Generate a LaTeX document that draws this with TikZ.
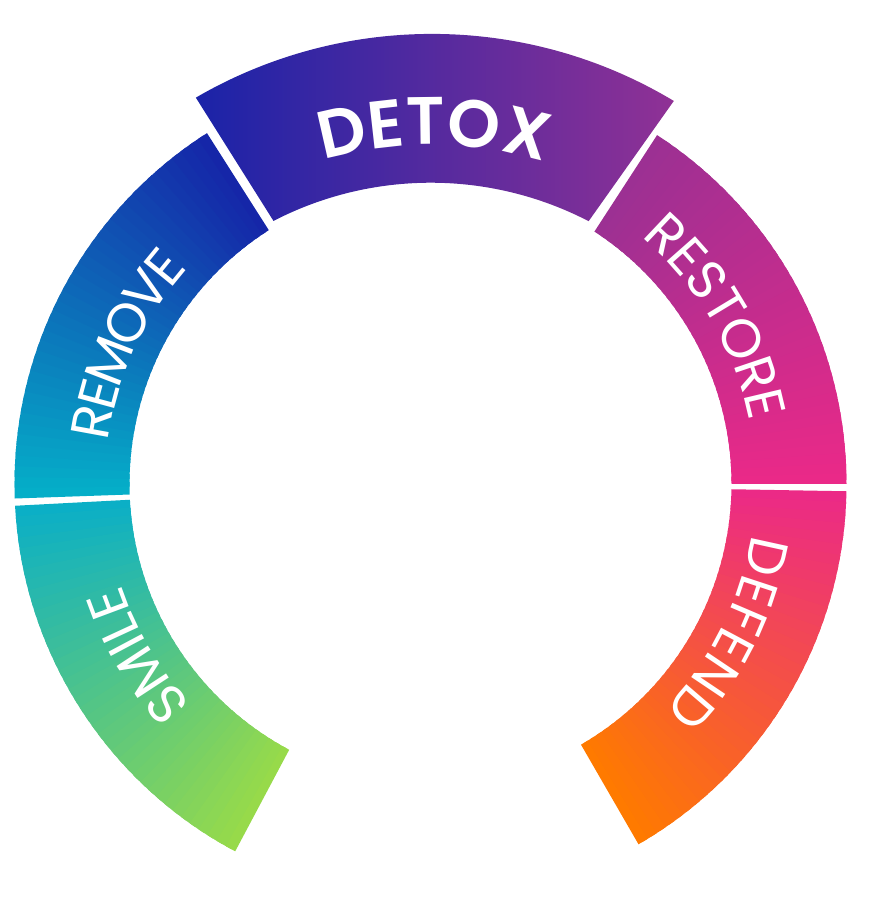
\documentclass[tikz,border=0pt]{standalone}
\usepackage{fontspec}
\usetikzlibrary{decorations.text}
\newfontfamily\labelfont{Poppins}
\newfontfamily\titlefont{Poppins SemiBold}
\definecolor{smileB}{HTML}{97DA4A}
\definecolor{smileA}{HTML}{0BAFC6}
\definecolor{removeA}{HTML}{05AEC8}
\definecolor{removeB}{HTML}{1526A8}
\definecolor{detoxA}{HTML}{1A23A8}
\definecolor{detoxB}{HTML}{903195}
\definecolor{restoreA}{HTML}{9C3093}
\definecolor{restoreB}{HTML}{EA2988}
\definecolor{defendA}{HTML}{EB2A86}
\definecolor{defendB}{HTML}{FF7A00}
\newcommand\ringseg[4]{%
  \foreach \i in {0,...,39}{%
    \pgfmathsetmacro{\angA}{#1+(#2-#1)*\i/40}%
    \pgfmathsetmacro{\angB}{\i<39 ? #1+(#2-#1)*(\i+1.6)/40 : #2}%
    \pgfmathsetmacro{\pct}{100-100*\i/39}%
    \fill[#3!\pct!#4] ([shift={(\angA:416)}]C) arc[start angle=\angA, end angle=\angB, radius=416]
      -- ([shift={(\angB:301)}]C) arc[start angle=\angB, end angle=\angA, radius=301] -- cycle;
  }}
\tikzset{
  ringlabel/.style={decorate, decoration={text effects along path, text={#1},
      text effects/.cd, text along path, fit text to path,
      characters={text=white, font=\labelfont\fontsize{54}{54}\selectfont}}},
  titlelabel/.style={decorate, decoration={text effects along path, text={#1},
      text effects/.cd, text along path, fit text to path,
      characters={text=white, font=\titlefont\fontsize{67}{67}\selectfont}}}
}
\begin{document}
\begin{tikzpicture}[x=1pt,y=1pt]
\useasboundingbox (0,0) rectangle (872,916);
\coordinate (C) at (430.5,432);
\coordinate (CI) at (430.8,390.3);
\coordinate (CO) at (432,412.6);
% ring segments
\ringseg{183}{242}{smileA}{smileB}
\ringseg{182}{122.5}{removeA}{removeB}
\ringseg{57}{0}{restoreA}{restoreB}
\ringseg{-1}{-60}{defendA}{defendB}
% raised DETOX segment
\shade[left color=detoxA, right color=detoxB]
  ([shift={(120.2:469.5)}]CO) arc[start angle=120.2, end angle=59, radius=469.5]
  -- ([shift={(62.6:343)}]CI) arc[start angle=62.6, end angle=117.3, radius=343] -- cycle;
% labels
\path[ringlabel=SMILE] ([shift={(222.7:325)}]C) arc[start angle=222.7, end angle=198, radius=325];
\path[ringlabel=REMOVE] ([shift={(172.5:325)}]C) arc[start angle=172.5, end angle=138.3, radius=325];
\path[ringlabel=RESTORE] ([shift={(49.5:325)}]C) arc[start angle=49.5, end angle=11, radius=325];
\path[ringlabel=DEFEND] ([shift={(-9:325)}]C) arc[start angle=-9, end angle=-44, radius=325];
\path[titlelabel=DETOX] ([shift={(106.4:381)}]CI) arc[start angle=106.4, end angle=72.8, radius=381];
\end{tikzpicture}
\end{document}
